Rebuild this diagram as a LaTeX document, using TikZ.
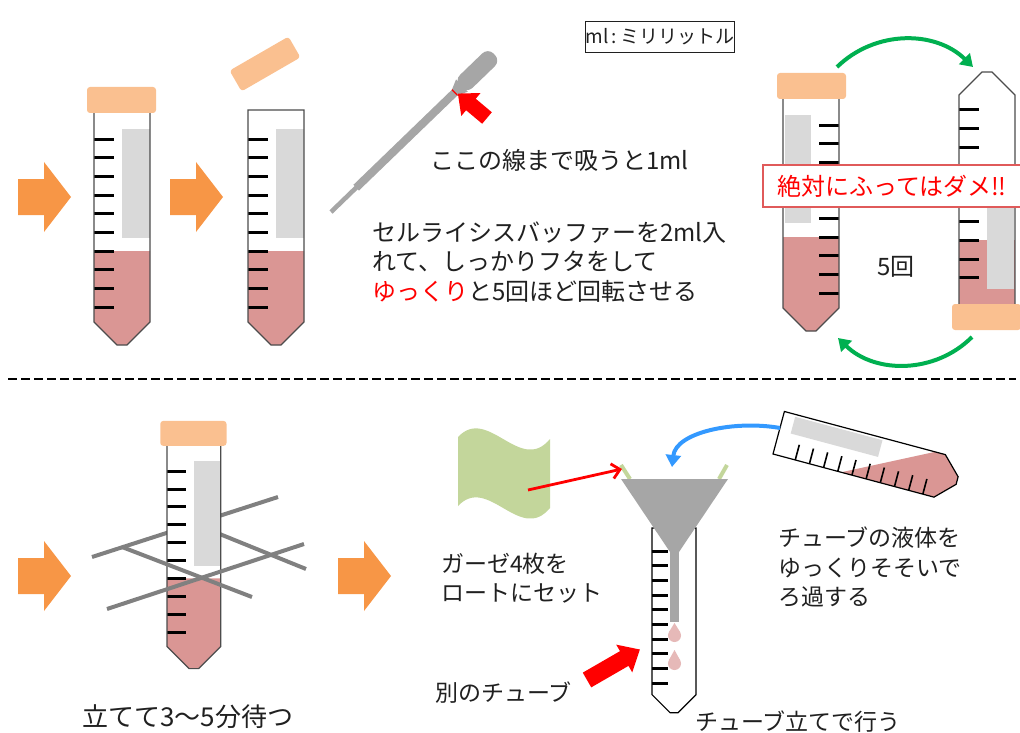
\documentclass[tikz,border=0pt]{standalone}
\usepackage{fontspec}
\setmainfont{Noto Sans CJK JP}
\usetikzlibrary{arrows.meta}

\definecolor{capc}{HTML}{FAC090}
\definecolor{liquidc}{HTML}{DA9694}
\definecolor{stickerc}{HTML}{D9D9D9}
\definecolor{orangec}{HTML}{F79646}
\definecolor{arcgreen}{HTML}{00B050}
\definecolor{arcblue}{HTML}{3399FF}
\definecolor{gauzec}{HTML}{C3D69B}
\definecolor{toolgrey}{HTML}{A6A6A6}
\definecolor{dropc}{HTML}{E6B9B8}
\definecolor{meshgrey}{HTML}{808080}
\definecolor{warnred}{HTML}{E05A5A}
\definecolor{inkc}{HTML}{202020}

% 15ml tube, open end at the origin, tip pointing down
\newcommand{\tubeshape}{(0,0) -- (0,212) -- (23,235) -- (33,235) -- (56,212) -- (56,0) -- cycle}
\newcommand{\tubescale}{\foreach \i in {0,...,9} \draw[tick] (0,29.3+18.67*\i) -- (20,29.3+18.67*\i);}
% fat arrow: length, head length, head width, shaft width
\newcommand{\blockarrow}[4]{(0,-#4/2) -- (#1-#2,-#4/2) -- (#1-#2,-#3/2) -- (#1,0) -- (#1-#2,#3/2) -- (#1-#2,#4/2) -- (0,#4/2) -- cycle}

\begin{document}
\begin{tikzpicture}[x=1pt, y=-1pt,
    txt/.style={font=\fontsize{23}{29.5}\selectfont, text=inkc, inner sep=0pt, anchor=west, align=left},
    big/.style={font=\fontsize{24}{29.5}\selectfont},
    tick/.style={line width=3pt},
    outline/.style={draw=black!70, line width=1.2pt},
    liquid/.style={fill=liquidc},
    sticker/.style={fill=stickerc},
    capfill/.style={fill=capc, rounded corners=3pt},
    mesh/.style={draw=meshgrey, line width=4pt},
    flip arc/.style={draw=arcgreen, line width=4pt, -{Triangle[length=12pt,width=15pt]}},
    warn/.style={draw=warnred, line width=1.2pt, fill=white, minimum width=258pt, minimum height=42pt,
                 font=\fontsize{24}{28}\selectfont, text=red}]

  \useasboundingbox (0,0) rectangle (1020,733);

  % ---- top row: add buffer and invert ----
  \fill[orangec, shift={(18,197)}] \blockarrow{53}{27}{70}{36};
  \fill[orangec, shift={(170,197)}] \blockarrow{53}{27}{70}{36};

  \begin{scope}[shift={(94,110)}]
    \fill[white] \tubeshape;
    \fill[liquid] (0,141) -- (0,212) -- (23,235) -- (33,235) -- (56,212) -- (56,141) -- cycle;
    \fill[sticker] (28,19) rectangle (56,128);
    \tubescale
    \draw[outline] \tubeshape;
    \fill[capfill] (-7,-23) rectangle (62,3);
  \end{scope}

  \begin{scope}[shift={(248,110)}]
    \fill[white] \tubeshape;
    \fill[liquid] (0,141) -- (0,212) -- (23,235) -- (33,235) -- (56,212) -- (56,141) -- cycle;
    \fill[sticker] (28,19) rectangle (56,128);
    \tubescale
    \draw[outline] \tubeshape;
  \end{scope}
  \fill[capfill, shift={(265,64)}, rotate=30] (-34,-12) rectangle (34,12);

  % pipette
  \begin{scope}[shift={(331,212)}, rotate=44]
    \fill[toolgrey] (0,-2.3) rectangle (36,2.3);
    \fill[toolgrey] (35,-4) rectangle (173,4);
    \fill[toolgrey] (172,-4) -- (182,-8.5) -- (182,8.5) -- (172,4) -- cycle;
    \fill[toolgrey, rounded corners=8pt] (180,-9) rectangle (227,9);
    \draw[red, line width=1.2pt] (172,-4) -- (172,4);
  \end{scope}
  \fill[red, shift={(487,118)}, rotate=140] \blockarrow{38}{17}{30}{15};

  \node[txt, big] (mark) at (430,160) {ここの線まで吸うと1ml};
  \node[txt, big] (howto) at (372,262) {セルライシスバッファーを2ml入\\れて、しっかりフタをして\\\textcolor{red}{ゆっくり}と5回ほど回転させる};
  \node[draw=inkc, line width=1pt, minimum width=148pt, minimum height=31pt, inner sep=0pt,
        font=\fontsize{19}{22}\selectfont, text=inkc] (unit) at (660,37) {ml\,:\,ミリリットル};

  % upright and upside down
  \begin{scope}[shift={(839,96)}, xscale=-1]
    \fill[white] \tubeshape;
    \fill[liquid] (0,141) -- (0,212) -- (23,235) -- (33,235) -- (56,212) -- (56,141) -- cycle;
    \fill[sticker] (28,19) rectangle (54,127);
    \tubescale
    \draw[outline] \tubeshape;
    \fill[capfill] (-7,-23) rectangle (62,3);
  \end{scope}

  \begin{scope}[shift={(959,307)}, yscale=-1]
    \fill[white] \tubeshape;
    \fill[liquid] (0,0) rectangle (56,67);
    \fill[sticker] (28,18) rectangle (55,127);
    \tubescale
    \draw[outline] \tubeshape;
    \fill[capfill] (-7,-23) rectangle (62,3);
  \end{scope}

  \coordinate (flipA) at (837,67);
  \coordinate (flipB) at (973,67);
  \coordinate (flipC) at (972,337);
  \coordinate (flipD) at (838,338);
  \draw[flip arc] (flipA) .. controls (875,30) and (935,30) .. (flipB);
  \draw[flip arc] (flipC) .. controls (935,374) and (875,374) .. (flipD);

  \node[warn] (noshake) at (892,186) {絶対にふってはダメ!!};
  \node[txt, big] (count) at (877,267) {5回};

  % divider
  \draw[line width=2.7pt, dash pattern=on 9pt off 4pt] (8,379) -- (1016,379);

  % ---- bottom row: settle, then filter ----
  \fill[orangec, shift={(18,576)}] \blockarrow{53}{27}{70}{36};
  \fill[orangec, shift={(338,576)}] \blockarrow{53}{27}{70}{36};

  \draw[mesh] (92,557) -- (278,497);
  \draw[mesh] (195,524) -- (306,569);
  \begin{scope}[shift={(167,443)}, scale=0.96]
    \fill[white] \tubeshape;
    \fill[liquid] (0,141) -- (0,212) -- (23,235) -- (33,235) -- (56,212) -- (56,141) -- cycle;
    \fill[sticker] (28,19) rectangle (56,128);
    \tubescale
    \draw[outline] \tubeshape;
    \fill[capfill] (-7,-23) rectangle (62,3);
  \end{scope}
  \draw[mesh] (122,547) -- (252,597);
  \draw[mesh] (107,609) -- (304,544);

  \node[txt, font=\fontsize{26}{29}\selectfont] (wait) at (82,717) {立てて3〜5分待つ};

  % gauze
  \fill[gauzec] (458,437) .. controls (488,405) and (520,475) .. (550,439) -- (550,508)
                .. controls (520,544) and (488,474) .. (458,506) -- cycle;
  \coordinate (gauze) at (528,490);

  % receiving tube with funnel
  \begin{scope}[shift={(652,528)}, scale=0.786]
    \fill[white] \tubeshape;
    \tubescale
    \draw[outline, draw=black] \tubeshape;
  \end{scope}
  \draw[gauzec, line width=4pt] (621,465) -- (630,479);
  \draw[gauzec, line width=4pt] (727,465) -- (719,479);
  \fill[toolgrey] (621,479) -- (728,479) -- (679,552) -- (670,552) -- cycle;
  \fill[toolgrey] (670,551) rectangle (679,622);
  \coordinate (rim) at (622,469);
  \coordinate (funnel) at (672,467);
  \foreach \cy/\ty in {635.5/623, 663.5/650}{
    \fill[dropc] (674.5,\cy) circle (6.5pt);
    \fill[dropc] (668.9,\cy-3.4) -- (674.5,\ty) -- (680.1,\cy-3.4) -- cycle;
  }

  % tube being poured
  \begin{scope}[shift={(773,454)}, rotate=75, scale=0.786]
    \fill[white] \tubeshape;
    \fill[liquid] (0,89.8) -- (56,198.5) -- (56,212) -- (33,235) -- (23,235) -- (0,212) -- cycle;
    \fill[sticker] (31,15) rectangle (53,130);
    \foreach \i in {0,...,9} \draw[line width=1.6pt] (0,29.3+18.67*\i) -- (20,29.3+18.67*\i);
    \draw[outline, draw=black] \tubeshape;
  \end{scope}
  \coordinate (spout) at (780,428);

  \draw[arcblue, line width=4pt, -{Triangle[length=12pt,width=15pt]}]
    (spout) .. controls (735,420) and (676,432) .. (funnel);
  \draw[red, line width=2.8pt, -{Straight Barb[length=8pt,width=15pt]}] (gauze) -- (rim);
  \fill[red, shift={(587,680)}, rotate=30] \blockarrow{61}{18}{32}{17};

  \node[txt] (filter) at (778,567) {チューブの液体を\\ゆっくりそそいで\\ろ過する};
  \node[txt] (setgauze) at (441,578) {ガーゼ4枚を\\ロートにセット};
  \node[txt] (other) at (435,693) {別のチューブ};
  \node[txt] (rack) at (695,722) {チューブ立てで行う};
\end{tikzpicture}
\end{document}
